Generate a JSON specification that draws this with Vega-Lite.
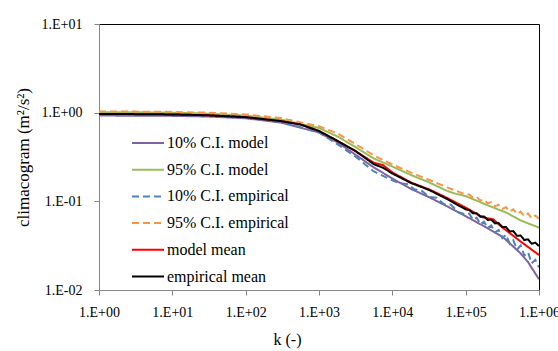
{
  "$schema": "https://vega.github.io/schema/vega-lite/v6.json",
  "width": 440,
  "height": 266,
  "autosize": {"type": "none"},
  "padding": {"left": 99, "top": 24, "right": 19, "bottom": 61},
  "background": "white",
  "config": {
    "view": {"stroke": "#000000", "strokeWidth": 1},
    "font": "Liberation Serif",
    "legend": {
      "orient": "none",
      "legendX": 32,
      "legendY": 102,
      "symbolType": "stroke",
      "symbolSize": 1024,
      "symbolStrokeWidth": 2,
      "labelFont": "Liberation Serif",
      "labelFontSize": 16,
      "labelColor": "#000000",
      "rowPadding": 1.7,
      "padding": 0,
      "labelOffset": 2
    }
  },
  "data": {
    "values": [
      {"s": "10% C.I. model", "k": 1, "v": 0.927},
      {"s": "10% C.I. model", "k": 3, "v": 0.925},
      {"s": "10% C.I. model", "k": 10, "v": 0.92},
      {"s": "10% C.I. model", "k": 30, "v": 0.905},
      {"s": "10% C.I. model", "k": 100, "v": 0.865},
      {"s": "10% C.I. model", "k": 300, "v": 0.774},
      {"s": "10% C.I. model", "k": 1000, "v": 0.597},
      {"s": "10% C.I. model", "k": 1800, "v": 0.46},
      {"s": "10% C.I. model", "k": 3200, "v": 0.333},
      {"s": "10% C.I. model", "k": 5600, "v": 0.241},
      {"s": "10% C.I. model", "k": 10000, "v": 0.181},
      {"s": "10% C.I. model", "k": 18000, "v": 0.138},
      {"s": "10% C.I. model", "k": 32000, "v": 0.111},
      {"s": "10% C.I. model", "k": 56000, "v": 0.0877},
      {"s": "10% C.I. model", "k": 100000, "v": 0.068},
      {"s": "10% C.I. model", "k": 180000, "v": 0.0521},
      {"s": "10% C.I. model", "k": 320000, "v": 0.0397},
      {"s": "10% C.I. model", "k": 400000, "v": 0.0336},
      {"s": "10% C.I. model", "k": 560000, "v": 0.0259},
      {"s": "10% C.I. model", "k": 700000, "v": 0.021},
      {"s": "10% C.I. model", "k": 1000000, "v": 0.0132},

      {"s": "95% C.I. model", "k": 1, "v": 1.012},
      {"s": "95% C.I. model", "k": 3, "v": 1.01},
      {"s": "95% C.I. model", "k": 10, "v": 1.0},
      {"s": "95% C.I. model", "k": 30, "v": 0.975},
      {"s": "95% C.I. model", "k": 100, "v": 0.927},
      {"s": "95% C.I. model", "k": 300, "v": 0.836},
      {"s": "95% C.I. model", "k": 1000, "v": 0.671},
      {"s": "95% C.I. model", "k": 1800, "v": 0.538},
      {"s": "95% C.I. model", "k": 3200, "v": 0.405},
      {"s": "95% C.I. model", "k": 5600, "v": 0.304},
      {"s": "95% C.I. model", "k": 10000, "v": 0.247},
      {"s": "95% C.I. model", "k": 18000, "v": 0.198},
      {"s": "95% C.I. model", "k": 32000, "v": 0.163},
      {"s": "95% C.I. model", "k": 56000, "v": 0.131},
      {"s": "95% C.I. model", "k": 70000, "v": 0.123},
      {"s": "95% C.I. model", "k": 100000, "v": 0.1146},
      {"s": "95% C.I. model", "k": 180000, "v": 0.0935},
      {"s": "95% C.I. model", "k": 240000, "v": 0.0848},
      {"s": "95% C.I. model", "k": 360000, "v": 0.0745},
      {"s": "95% C.I. model", "k": 560000, "v": 0.061},
      {"s": "95% C.I. model", "k": 1000000, "v": 0.0505},

      {"s": "10% C.I. empirical", "k": 1, "v": 0.953},
      {"s": "10% C.I. empirical", "k": 3, "v": 0.952},
      {"s": "10% C.I. empirical", "k": 10, "v": 0.945},
      {"s": "10% C.I. empirical", "k": 30, "v": 0.925},
      {"s": "10% C.I. empirical", "k": 100, "v": 0.88},
      {"s": "10% C.I. empirical", "k": 300, "v": 0.79},
      {"s": "10% C.I. empirical", "k": 1000, "v": 0.597},
      {"s": "10% C.I. empirical", "k": 1800, "v": 0.438},
      {"s": "10% C.I. empirical", "k": 3200, "v": 0.316},
      {"s": "10% C.I. empirical", "k": 5600, "v": 0.217},
      {"s": "10% C.I. empirical", "k": 10000, "v": 0.172},
      {"s": "10% C.I. empirical", "k": 12590, "v": 0.16},
      {"s": "10% C.I. empirical", "k": 15850, "v": 0.157},
      {"s": "10% C.I. empirical", "k": 19950, "v": 0.137},
      {"s": "10% C.I. empirical", "k": 25120, "v": 0.1315},
      {"s": "10% C.I. empirical", "k": 31620, "v": 0.1125},
      {"s": "10% C.I. empirical", "k": 39810, "v": 0.11},
      {"s": "10% C.I. empirical", "k": 50120, "v": 0.0933},
      {"s": "10% C.I. empirical", "k": 63100, "v": 0.0916},
      {"s": "10% C.I. empirical", "k": 79430, "v": 0.0753},
      {"s": "10% C.I. empirical", "k": 100000, "v": 0.0711},
      {"s": "10% C.I. empirical", "k": 112200, "v": 0.0728},
      {"s": "10% C.I. empirical", "k": 125900, "v": 0.0619},
      {"s": "10% C.I. empirical", "k": 141300, "v": 0.0656},
      {"s": "10% C.I. empirical", "k": 158500, "v": 0.0551},
      {"s": "10% C.I. empirical", "k": 177800, "v": 0.059},
      {"s": "10% C.I. empirical", "k": 199500, "v": 0.05},
      {"s": "10% C.I. empirical", "k": 223900, "v": 0.0533},
      {"s": "10% C.I. empirical", "k": 251200, "v": 0.0447},
      {"s": "10% C.I. empirical", "k": 281800, "v": 0.0476},
      {"s": "10% C.I. empirical", "k": 316200, "v": 0.0385},
      {"s": "10% C.I. empirical", "k": 354800, "v": 0.0421},
      {"s": "10% C.I. empirical", "k": 398100, "v": 0.0333},
      {"s": "10% C.I. empirical", "k": 446700, "v": 0.0364},
      {"s": "10% C.I. empirical", "k": 501200, "v": 0.0285},
      {"s": "10% C.I. empirical", "k": 562300, "v": 0.0318},
      {"s": "10% C.I. empirical", "k": 631000, "v": 0.0244},
      {"s": "10% C.I. empirical", "k": 707900, "v": 0.0267},
      {"s": "10% C.I. empirical", "k": 794300, "v": 0.02},
      {"s": "10% C.I. empirical", "k": 891300, "v": 0.0219},
      {"s": "10% C.I. empirical", "k": 1000000, "v": 0.018},

      {"s": "95% C.I. empirical", "k": 1, "v": 1.028},
      {"s": "95% C.I. empirical", "k": 3, "v": 1.028},
      {"s": "95% C.I. empirical", "k": 10, "v": 1.02},
      {"s": "95% C.I. empirical", "k": 30, "v": 1.0},
      {"s": "95% C.I. empirical", "k": 100, "v": 0.953},
      {"s": "95% C.I. empirical", "k": 300, "v": 0.869},
      {"s": "95% C.I. empirical", "k": 1000, "v": 0.703},
      {"s": "95% C.I. empirical", "k": 1800, "v": 0.582},
      {"s": "95% C.I. empirical", "k": 3200, "v": 0.438},
      {"s": "95% C.I. empirical", "k": 5600, "v": 0.329},
      {"s": "95% C.I. empirical", "k": 10000, "v": 0.261},
      {"s": "95% C.I. empirical", "k": 18000, "v": 0.211},
      {"s": "95% C.I. empirical", "k": 32000, "v": 0.174},
      {"s": "95% C.I. empirical", "k": 56000, "v": 0.1435},
      {"s": "95% C.I. empirical", "k": 100000, "v": 0.1197},
      {"s": "95% C.I. empirical", "k": 112200, "v": 0.1197},
      {"s": "95% C.I. empirical", "k": 125900, "v": 0.1094},
      {"s": "95% C.I. empirical", "k": 141300, "v": 0.112},
      {"s": "95% C.I. empirical", "k": 158500, "v": 0.1019},
      {"s": "95% C.I. empirical", "k": 177800, "v": 0.1047},
      {"s": "95% C.I. empirical", "k": 199500, "v": 0.0948},
      {"s": "95% C.I. empirical", "k": 223900, "v": 0.098},
      {"s": "95% C.I. empirical", "k": 251200, "v": 0.0877},
      {"s": "95% C.I. empirical", "k": 281800, "v": 0.0916},
      {"s": "95% C.I. empirical", "k": 316200, "v": 0.082},
      {"s": "95% C.I. empirical", "k": 354800, "v": 0.0859},
      {"s": "95% C.I. empirical", "k": 398100, "v": 0.0769},
      {"s": "95% C.I. empirical", "k": 446700, "v": 0.0811},
      {"s": "95% C.I. empirical", "k": 501200, "v": 0.0721},
      {"s": "95% C.I. empirical", "k": 562300, "v": 0.0766},
      {"s": "95% C.I. empirical", "k": 631000, "v": 0.0682},
      {"s": "95% C.I. empirical", "k": 707900, "v": 0.0733},
      {"s": "95% C.I. empirical", "k": 794300, "v": 0.0643},
      {"s": "95% C.I. empirical", "k": 891300, "v": 0.0693},
      {"s": "95% C.I. empirical", "k": 1000000, "v": 0.0637},

      {"s": "model mean", "k": 1, "v": 0.965},
      {"s": "model mean", "k": 3, "v": 0.963},
      {"s": "model mean", "k": 10, "v": 0.955},
      {"s": "model mean", "k": 30, "v": 0.935},
      {"s": "model mean", "k": 100, "v": 0.89},
      {"s": "model mean", "k": 300, "v": 0.804},
      {"s": "model mean", "k": 560, "v": 0.735},
      {"s": "model mean", "k": 1000, "v": 0.621},
      {"s": "model mean", "k": 1800, "v": 0.48},
      {"s": "model mean", "k": 3200, "v": 0.365},
      {"s": "model mean", "k": 5600, "v": 0.272},
      {"s": "model mean", "k": 7500, "v": 0.256},
      {"s": "model mean", "k": 10000, "v": 0.212},
      {"s": "model mean", "k": 18000, "v": 0.163},
      {"s": "model mean", "k": 32000, "v": 0.136},
      {"s": "model mean", "k": 56000, "v": 0.109},
      {"s": "model mean", "k": 100000, "v": 0.085},
      {"s": "model mean", "k": 170000, "v": 0.066},
      {"s": "model mean", "k": 240000, "v": 0.0625},
      {"s": "model mean", "k": 300000, "v": 0.0526},
      {"s": "model mean", "k": 560000, "v": 0.0353},
      {"s": "model mean", "k": 1000000, "v": 0.0248},

      {"s": "empirical mean", "k": 1, "v": 0.965},
      {"s": "empirical mean", "k": 3, "v": 0.963},
      {"s": "empirical mean", "k": 10, "v": 0.955},
      {"s": "empirical mean", "k": 30, "v": 0.935},
      {"s": "empirical mean", "k": 100, "v": 0.89},
      {"s": "empirical mean", "k": 300, "v": 0.804},
      {"s": "empirical mean", "k": 560, "v": 0.735},
      {"s": "empirical mean", "k": 1000, "v": 0.621},
      {"s": "empirical mean", "k": 1800, "v": 0.479},
      {"s": "empirical mean", "k": 3200, "v": 0.365},
      {"s": "empirical mean", "k": 5600, "v": 0.262},
      {"s": "empirical mean", "k": 7500, "v": 0.239},
      {"s": "empirical mean", "k": 10000, "v": 0.206},
      {"s": "empirical mean", "k": 18000, "v": 0.161},
      {"s": "empirical mean", "k": 32000, "v": 0.134},
      {"s": "empirical mean", "k": 56000, "v": 0.106},
      {"s": "empirical mean", "k": 100000, "v": 0.0811},
      {"s": "empirical mean", "k": 112200, "v": 0.0796},
      {"s": "empirical mean", "k": 125900, "v": 0.0733},
      {"s": "empirical mean", "k": 141300, "v": 0.0733},
      {"s": "empirical mean", "k": 158500, "v": 0.0671},
      {"s": "empirical mean", "k": 177800, "v": 0.0675},
      {"s": "empirical mean", "k": 199500, "v": 0.0617},
      {"s": "empirical mean", "k": 223900, "v": 0.0621},
      {"s": "empirical mean", "k": 251200, "v": 0.0564},
      {"s": "empirical mean", "k": 281800, "v": 0.0568},
      {"s": "empirical mean", "k": 316200, "v": 0.0514},
      {"s": "empirical mean", "k": 354800, "v": 0.0513},
      {"s": "empirical mean", "k": 398100, "v": 0.0458},
      {"s": "empirical mean", "k": 446700, "v": 0.0461},
      {"s": "empirical mean", "k": 501200, "v": 0.0409},
      {"s": "empirical mean", "k": 562300, "v": 0.0411},
      {"s": "empirical mean", "k": 631000, "v": 0.0366},
      {"s": "empirical mean", "k": 707900, "v": 0.0373},
      {"s": "empirical mean", "k": 794300, "v": 0.0333},
      {"s": "empirical mean", "k": 891300, "v": 0.0342},
      {"s": "empirical mean", "k": 1000000, "v": 0.0313}
    ]
  },
  "mark": {"type": "line", "strokeWidth": 2, "clip": true},
  "encoding": {
    "x": {
      "field": "k",
      "type": "quantitative",
      "scale": {"type": "log", "domain": [1, 1000000], "nice": false},
      "axis": {
        "values": [1, 10, 100, 1000, 10000, 100000, 1000000],
        "labelExpr": "'1.E+0' + round(log(datum.value)/LN10)",
        "grid": false,
        "domainColor": "#868686",
        "tickColor": "#868686",
        "tickSize": 5,
        "labelPadding": 10,
        "labelFont": "Liberation Serif",
        "labelFontSize": 14,
        "labelColor": "#000000",
        "labelOverlap": false,
        "labelFlush": false,
        "title": "k (-)",
        "titleFont": "Liberation Serif",
        "titleFontSize": 16,
        "titleFontWeight": "normal",
        "titleColor": "#000000",
        "titleX": 188,
        "titleY": 54,
        "titleBaseline": "alphabetic"
      }
    },
    "y": {
      "field": "v",
      "type": "quantitative",
      "scale": {"type": "log", "domain": [0.01, 10], "nice": false},
      "axis": {
        "values": [0.01, 0.1, 1, 10],
        "labelExpr": "datum.value >= 5 ? '1.E+01' : datum.value >= 0.5 ? '1.E+00' : datum.value >= 0.05 ? '1.E-01' : '1.E-02'",
        "grid": false,
        "domainColor": "#868686",
        "tickColor": "#868686",
        "tickSize": 5,
        "labelPadding": 12,
        "labelFont": "Liberation Serif",
        "labelFontSize": 14,
        "labelColor": "#000000",
        "labelOverlap": false,
        "labelFlush": false,
        "title": "climacogram (m²/s²)",
        "titleFont": "Liberation Serif",
        "titleFontSize": 17,
        "titleFontWeight": "normal",
        "titleColor": "#000000",
        "titleX": -76,
        "titleY": 133,
        "titleAngle": -90,
        "titleBaseline": "middle"
      }
    },
    "color": {
      "field": "s",
      "type": "nominal",
      "sort": null,
      "scale": {
        "domain": ["10% C.I. model", "95% C.I. model", "10% C.I. empirical", "95% C.I. empirical", "model mean", "empirical mean"],
        "range": ["#8064A2", "#9BBB59", "#4F81BD", "#F79646", "#FF0000", "#000000"]
      },
      "legend": {"title": null}
    },
    "strokeDash": {
      "field": "s",
      "type": "nominal",
      "sort": null,
      "scale": {
        "domain": ["10% C.I. model", "95% C.I. model", "10% C.I. empirical", "95% C.I. empirical", "model mean", "empirical mean"],
        "range": [[1, 0], [1, 0], [7, 4], [7, 4], [1, 0], [1, 0]]
      },
      "legend": {"title": null}
    }
  }
}
